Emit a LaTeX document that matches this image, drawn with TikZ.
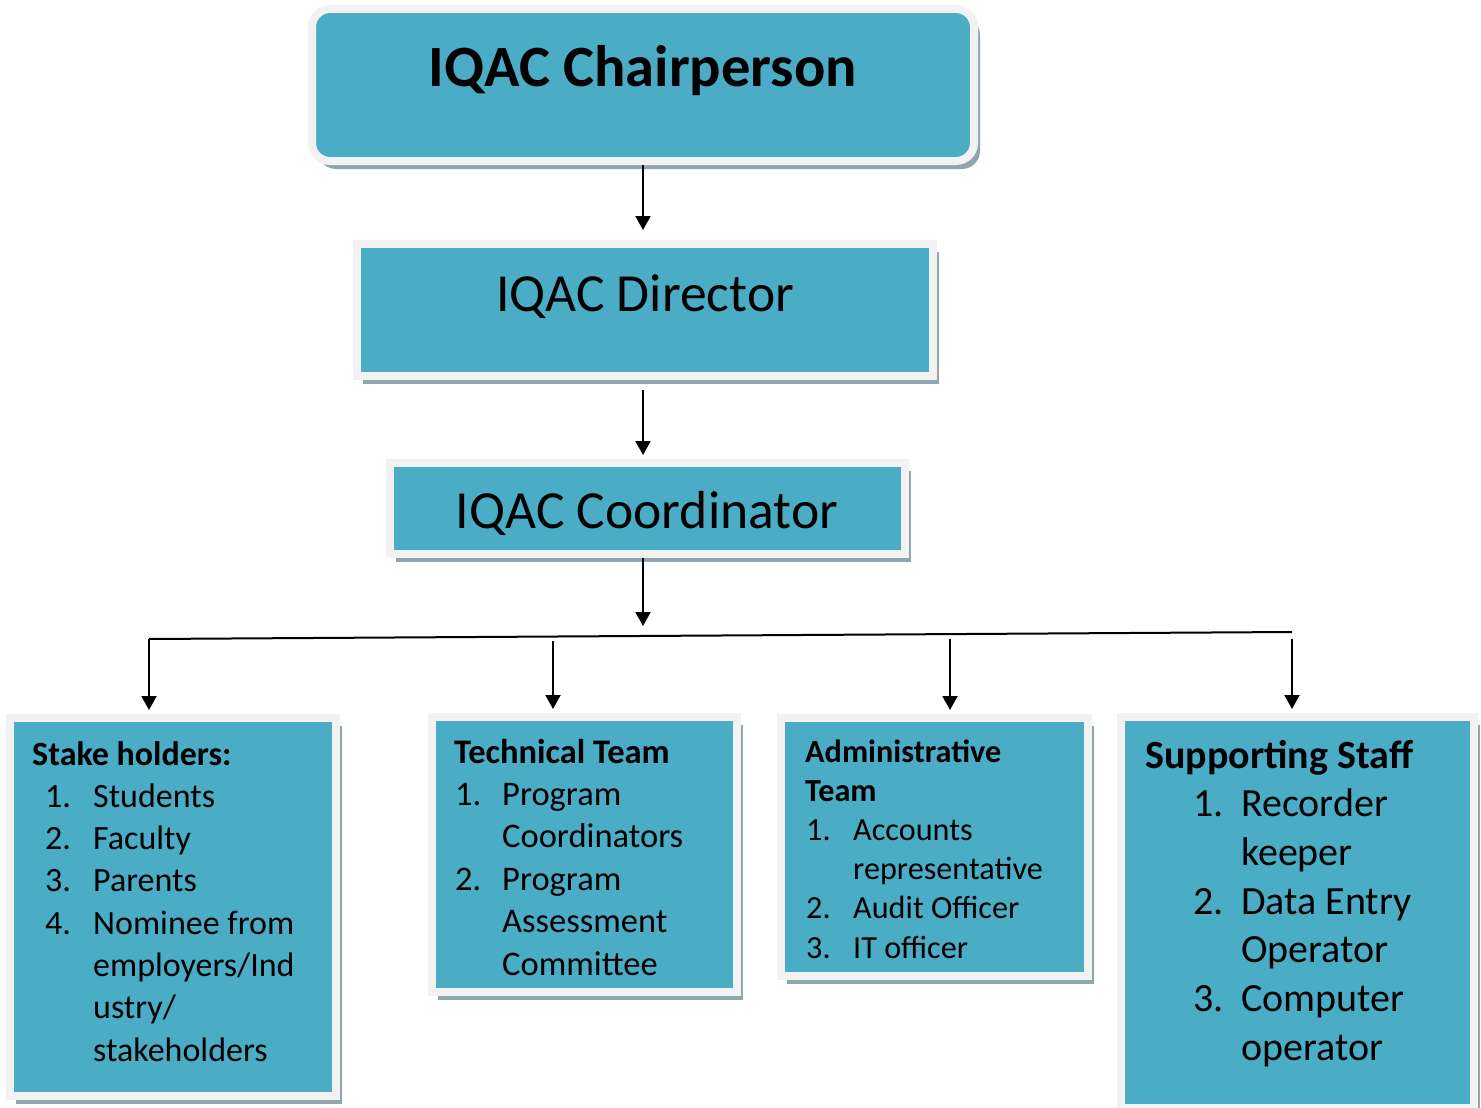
\documentclass[tikz,border=0pt]{standalone}
\usepackage{fontspec}
\setmainfont{Carlito}
\usetikzlibrary{arrows.meta,shadows}

\definecolor{panelblue}{HTML}{4BACC6}
\definecolor{panelrim}{HTML}{F2F2F2}
\definecolor{panelshade}{HTML}{8FA6AF}

\tikzset{
  panel/.style={rectangle, inner sep=0pt, fill=panelblue, draw=panelrim, line width=8pt,
    drop shadow={shadow xshift=6pt, shadow yshift=-8pt, fill=panelshade, opacity=1}},
  link/.style={line width=2pt, -{Triangle[width=15pt,length=14pt]}},
  bus/.style={line width=2pt},
  title/.style={inner sep=0pt, anchor=base},
  roster/.style={inner sep=0pt, anchor=base west},
}
% numbered entry: label in a fixed-width slot
\newcommand{\numslot}[2]{\makebox[#1][l]{#2}}

\begin{document}
\begin{tikzpicture}[x=1pt,y=-1pt]
\useasboundingbox (0,0) rectangle (1481,1108);

% --- top chain ---
\node[panel, rounded corners=18pt, minimum width=662pt, minimum height=152pt] (chair) at (643,85) {};
\node[title, font=\fontsize{58.5}{70}\selectfont\bfseries] (chairtxt) at (643,86) {IQAC Chairperson};

\node[panel, minimum width=576pt, minimum height=132pt] (dir) at (645,310) {};
\node[title, font=\fontsize{53.6}{64}\selectfont] (dirtxt) at (645,311) {IQAC Director};

\node[panel, minimum width=515pt, minimum height=91pt] (coord) at (647.5,508.5) {};
\node[title, font=\fontsize{53.6}{64}\selectfont] (coordtxt) at (647,528) {IQAC Coordinator};

\draw[link, shorten >=10pt] (chair.south) -- (chair.south |- dir.north);
\draw[link, shorten <=10pt, shorten >=4pt] (chair.south |- dir.south) -- (chair.south |- coord.north);
\coordinate (hub) at (643,626);
\draw[link] (chair.south |- coord.south) -- (hub);

% --- distribution bus ---
\coordinate (busL) at (149,639);
\coordinate (busR) at (1292,632);
\draw[bus] (busL) -- (busR);

% --- bottom panels ---
\node[panel, minimum width=326pt, minimum height=378pt] (sh) at (173,907) {};
\node[panel, minimum width=305pt, minimum height=275pt] (tech) at (584.5,854.5) {};
\node[panel, minimum width=307pt, minimum height=258pt] (admin) at (934.5,847) {};
\node[panel, minimum width=353pt, minimum height=391pt] (supp) at (1297.5,912.5) {};

\coordinate (d1) at (149,639);
\coordinate (d2) at (553,641);
\coordinate (d3) at (950,639);
\coordinate (d4) at (1292,639);
\draw[link, shorten >=4pt] (d1) -- (d1 |- sh.north);
\draw[link, shorten >=4pt] (d2) -- (d2 |- tech.north);
\draw[link, shorten >=4pt] (d3) -- (d3 |- admin.north);
\draw[link, shorten >=4pt] (d4) -- (d4 |- supp.north);

% --- panel contents ---
\node[roster] (shtxt) at (32,765) {\begin{minipage}[t]{300pt}\fontsize{34}{42.3}\selectfont\raggedright
\textbf{Stake holders:}\\
\hspace*{13pt}\numslot{48pt}{1.}Students\\
\hspace*{13pt}\numslot{48pt}{2.}Faculty\\
\hspace*{13pt}\numslot{48pt}{3.}Parents\\
\hspace*{13pt}\numslot{48pt}{4.}Nominee from\\
\hspace*{61pt}employers/Ind\\
\hspace*{61pt}ustry/\\
\hspace*{61pt}stakeholders\par\end{minipage}};

\node[roster] (techtxt) at (454,763) {\begin{minipage}[t]{280pt}\fontsize{34.5}{42.4}\selectfont\raggedright
\textbf{Technical Team}\\
\hspace*{1pt}\numslot{47pt}{1.}Program\\
\hspace*{48pt}Coordinators\\
\hspace*{1pt}\numslot{47pt}{2.}Program\\
\hspace*{48pt}Assessment\\
\hspace*{48pt}Committee\par\end{minipage}};

\node[roster] (admintxt) at (805,762) {\begin{minipage}[t]{280pt}\fontsize{32.2}{39.2}\selectfont\raggedright
\textbf{Administrative}\\
\textbf{Team}\\
\hspace*{1pt}\numslot{47pt}{1.}Accounts\\
\hspace*{48pt}representative\\
\hspace*{1pt}\numslot{47pt}{2.}Audit Officer\\
\hspace*{1pt}\numslot{47pt}{3.}IT officer\par\end{minipage}};

\node[roster] (supptxt) at (1145,768) {\begin{minipage}[t]{320pt}\fontsize{40}{48.7}\selectfont\raggedright
\textbf{Supporting Staff}\\
\hspace*{48pt}\numslot{48pt}{1.}Recorder\\
\hspace*{96pt}keeper\\
\hspace*{48pt}\numslot{48pt}{2.}Data Entry\\
\hspace*{96pt}Operator\\
\hspace*{48pt}\numslot{48pt}{3.}Computer\\
\hspace*{96pt}operator\par\end{minipage}};

\end{tikzpicture}
\end{document}
